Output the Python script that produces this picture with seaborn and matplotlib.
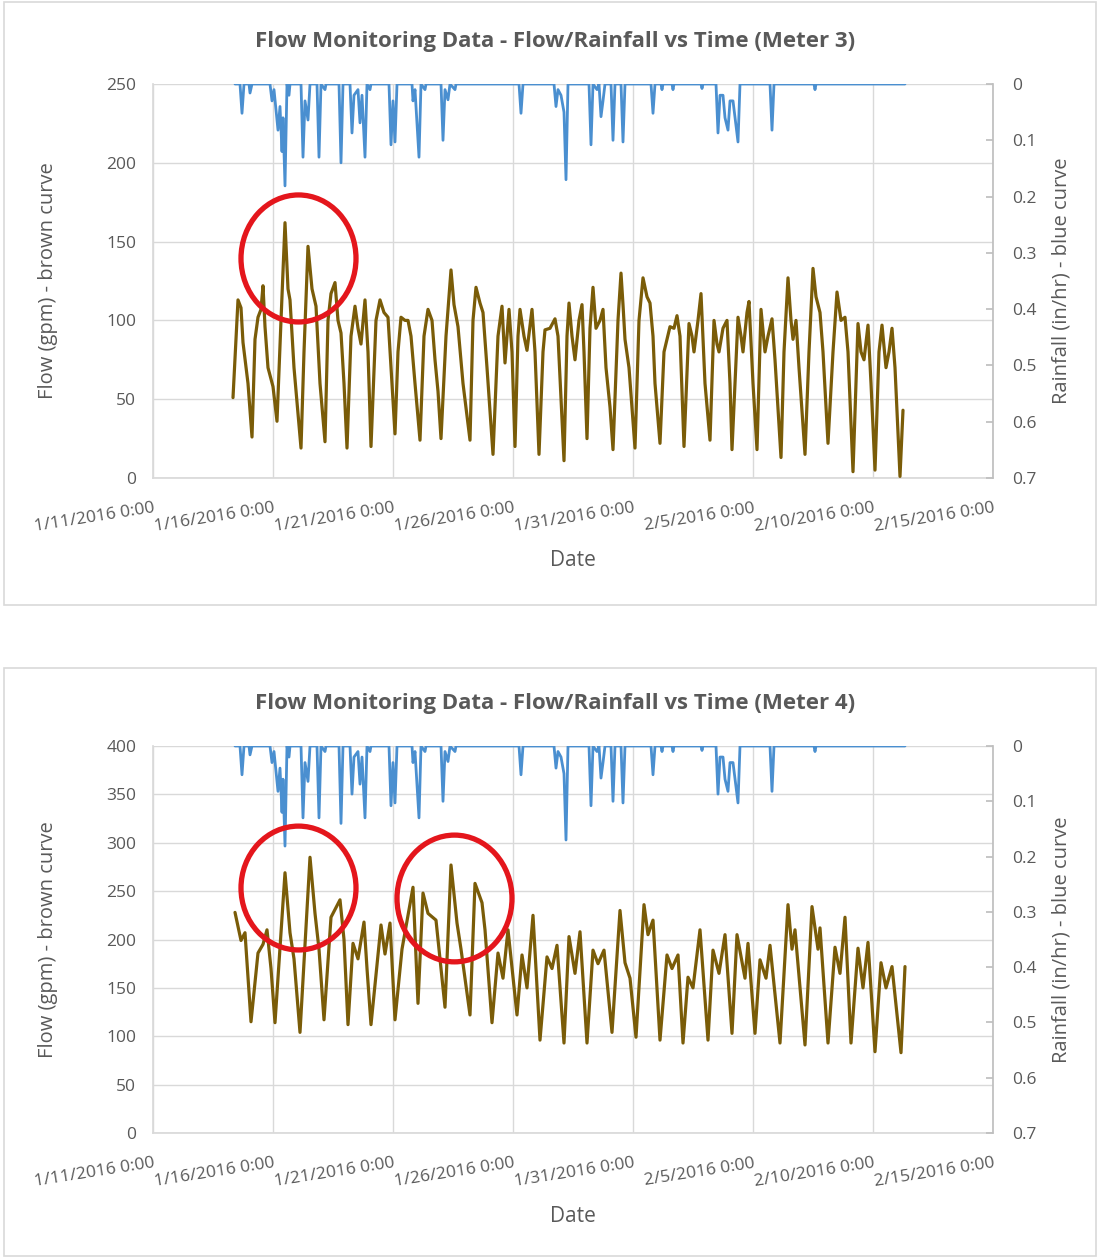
import matplotlib
matplotlib.use("Agg")
import matplotlib.pyplot as plt
import matplotlib.dates as mdates
from matplotlib.patches import Ellipse, Rectangle
import seaborn as sns
import pandas as pd

# ---------------- data (hours since 1/11/2016 0:00) ----------------
flow3_hours = [80, 85, 88, 90, 95, 99, 102, 105, 108, 110, 112, 115, 120, 124, 128, 132, 135, 137, 141, 148,
               151, 155, 159, 163, 167, 172, 175, 178, 182, 185, 188, 191, 194, 198, 202, 205, 208, 212,
               215, 218, 223, 227, 231, 235, 238, 242, 245, 248, 252, 255, 258, 262, 267, 271, 275, 279,
               282, 285, 288, 293, 298, 301, 305, 310, 317, 320, 323, 327, 330, 334, 340, 345, 349, 352,
               356, 359, 362, 365, 367, 371, 374, 379, 382, 386, 390, 392, 397, 402, 405, 408, 411, 414,
               416, 419, 422, 426, 429, 431, 434, 437, 440, 443, 447, 450, 453, 457, 460, 465, 468, 470,
               472, 476, 482, 486, 490, 494, 497, 500, 502, 507, 511, 517, 521, 524, 527, 531, 536, 539,
               541, 545, 548, 552, 557, 561, 564, 566, 570, 574, 577, 579, 585, 588, 590, 594, 596, 600,
               604, 608, 612, 615, 619, 622, 628, 631, 635, 638, 640, 643, 646, 652, 656, 660, 663, 667,
               670, 675, 680, 684, 688, 692, 695, 700, 705, 708, 711, 715, 718, 722, 726, 729, 733, 736,
               739, 742, 747, 750]
flow3_gpm = [51, 113, 108, 86, 60, 26, 88, 102, 107, 122, 96, 70, 58, 36, 100, 162, 120, 113, 70, 19,
             80, 147, 120, 109, 60, 23, 100, 117, 124, 100, 92, 60, 19, 90, 109, 95, 85, 113,
             80, 20, 100, 113, 105, 102, 70, 28, 80, 102, 100, 100, 90, 60, 24, 90, 107, 100,
             75, 55, 25, 90, 132, 110, 96, 60, 24, 100, 121, 111, 105, 70, 15, 90, 109, 73,
             107, 80, 20, 90, 107, 90, 81, 107, 80, 15, 80, 94, 95, 101, 90, 50, 11, 90,
             111, 90, 75, 100, 110, 80, 25, 95, 121, 95, 100, 107, 70, 45, 18, 100, 130, 110,
             88, 70, 19, 100, 127, 115, 111, 90, 60, 22, 80, 96, 95, 103, 90, 20, 98, 90,
             80, 100, 117, 60, 24, 100, 85, 80, 95, 100, 60, 18, 102, 90, 80, 105, 112, 60,
             18, 107, 80, 90, 101, 75, 13, 80, 127, 100, 88, 100, 70, 15, 80, 133, 115, 105,
             80, 22, 80, 118, 100, 102, 80, 4, 98, 80, 75, 97, 60, 5, 80, 97, 70, 80,
             95, 70, 1, 43]

flow4_hours = [82, 88, 92, 98, 105, 110, 114, 118, 122, 132, 137, 141, 147, 157, 162, 166, 171, 178,
               187, 191, 195, 200, 205, 211, 214, 218, 228, 232, 237, 242, 249, 260, 265, 270, 275,
               283, 287, 292, 298, 304, 308, 317, 322, 329, 332, 339, 345, 350, 355, 364, 369, 374,
               380, 387, 394, 399, 404, 411, 416, 422, 427, 434, 440, 445, 451, 459, 467, 472, 477,
               483, 491, 495, 500, 507, 514, 519, 525, 530, 535, 540, 547, 555, 560, 566, 572, 579,
               584, 592, 595, 602, 607, 613, 617, 627, 635, 639, 642, 652, 659, 665, 667, 675, 682,
               687, 692, 698, 705, 710, 715, 722, 728, 733, 739, 748, 752]
flow4_gpm = [228, 199, 207, 115, 186, 195, 210, 170, 114, 269, 207, 180, 104, 285, 227, 190, 117, 223,
             241, 200, 112, 196, 180, 218, 170, 112, 215, 185, 217, 117, 190, 254, 134, 248, 227,
             220, 180, 130, 277, 217, 190, 122, 258, 238, 210, 114, 186, 160, 210, 122, 184, 150,
             225, 96, 182, 170, 194, 93, 203, 165, 208, 93, 189, 175, 189, 104, 230, 176, 160,
             99, 236, 205, 220, 96, 184, 170, 184, 93, 161, 150, 210, 96, 189, 165, 205, 103,
             205, 160, 196, 103, 179, 160, 194, 93, 236, 190, 210, 91, 234, 190, 212, 93, 192,
             165, 223, 93, 191, 150, 197, 84, 176, 150, 172, 83, 172]

rain_hours = [82, 87, 89, 91, 96, 97, 99, 117, 119, 121, 125, 127, 129, 130, 132, 134, 136, 137,
              148, 150, 152, 155, 157, 164, 166, 168, 172, 173, 186, 188, 190, 197, 199, 201, 205,
              207, 209, 212, 214, 217, 218, 236, 238, 240, 242, 244, 259, 260, 262, 266, 268, 272,
              273, 288, 290, 292, 295, 297, 302, 303, 366, 368, 370, 401, 403, 405, 408, 411, 413,
              415, 436, 438, 440, 444, 446, 448, 450, 452, 458, 460, 462, 468, 470, 472, 498, 500,
              502, 508, 509, 510, 519, 520, 521, 548, 549, 550, 563, 565, 567, 570, 572, 575, 577,
              580, 585, 587, 617, 619, 621, 661, 662, 663, 752]
rain_inhr = [0, 0, 0.052, 0, 0, 0.016, 0, 0, 0.03, 0.01, 0.082, 0.04, 0.12, 0.06, 0.181, 0, 0.02, 0,
             0, 0.13, 0.03, 0.064, 0, 0, 0.13, 0, 0.01, 0, 0, 0.14, 0, 0, 0.087, 0.02, 0.01,
             0.069, 0.02, 0.13, 0, 0.01, 0, 0, 0.108, 0.03, 0.103, 0, 0, 0.03, 0.01, 0.13, 0, 0.01,
             0, 0, 0.1, 0.01, 0.028, 0, 0.01, 0, 0, 0.052, 0, 0, 0.04, 0.01, 0.02, 0.05, 0.17,
             0, 0, 0.108, 0, 0.01, 0, 0.058, 0.03, 0, 0, 0.1, 0, 0, 0.103, 0, 0, 0.052,
             0, 0, 0.01, 0, 0, 0.01, 0, 0, 0.008, 0, 0, 0.087, 0.02, 0.02, 0.06, 0.082, 0.03,
             0.03, 0.103, 0, 0, 0.082, 0, 0, 0.01, 0, 0]

tick_dates = ["2016-01-11", "2016-01-16", "2016-01-21", "2016-01-26", "2016-01-31",
              "2016-02-05", "2016-02-10", "2016-02-15"]
tick_labels = ["1/11/2016 0:00", "1/16/2016 0:00", "1/21/2016 0:00", "1/26/2016 0:00",
               "1/31/2016 0:00", "2/5/2016 0:00", "2/10/2016 0:00", "2/15/2016 0:00"]
rain_ticks = [0, 0.1, 0.2, 0.3, 0.4, 0.5, 0.6, 0.7]
rain_tick_labels = ["0", "0.1", "0.2", "0.3", "0.4", "0.5", "0.6", "0.7"]

titles = ["Flow Monitoring Data - Flow/Rainfall vs Time (Meter 3)",
          "Flow Monitoring Data - Flow/Rainfall vs Time (Meter 4)"]

# circles: (center hour, center gpm, width hours, height gpm)
circles3 = [(145.5, 139.3, 115, 80.6)]
circles4 = [(145.5, 253.2, 115, 128), (301.5, 242.4, 115, 131)]

# ---------------- styling ----------------
sns.set_theme(style="white")
plt.rcParams["font.family"] = ["Open Sans", "DejaVu Sans"]

BROWN = "#7a5c08"
BLUE = "#4a8fd0"
GRID = "#d9d9d9"
TXT = "#595959"
RED = "#e4161c"

W, H = 1099, 1260
START = pd.Timestamp("2016-01-11")


def to_dates(hours):
    return START + pd.to_timedelta(pd.Series(hours, dtype=float), unit="h")


fig = plt.figure(figsize=(W / 100, H / 100), dpi=100)
fig.patch.set_facecolor("white")


def panel(top_px, bot_px, box, flow_h, flow_v, ymax, circles, title, title_y, date_y):
    ax = fig.add_axes([153 / W, 1 - bot_px / H, 840 / W, (bot_px - top_px) / H])
    fig.patches.append(Rectangle((box[0] / W, 1 - box[3] / H), (box[2] - box[0]) / W,
                                 (box[3] - box[1]) / H, transform=fig.transFigure,
                                 fill=False, edgecolor=GRID, lw=1.2, zorder=0))
    df = pd.DataFrame({"date": to_dates(flow_h), "flow": flow_v})
    sns.lineplot(data=df, x="date", y="flow", ax=ax, color=BROWN, lw=2.3,
                 sort=False, estimator=None, zorder=3)
    ax.set_ylim(0, ymax)
    ax.set_yticks(list(range(0, ymax + 1, 50)))
    ax.set_yticklabels([str(v) for v in range(0, ymax + 1, 50)], color=TXT, fontsize=12.5)
    ax.set_xlim(pd.Timestamp(tick_dates[0]), pd.Timestamp(tick_dates[-1]))
    ax.set_xticks([pd.Timestamp(d) for d in tick_dates])
    ax.set_xticklabels(tick_labels, rotation=9, ha="right", rotation_mode="anchor",
                       va="top", color=TXT, fontsize=12.5)
    ax.tick_params(axis="y", length=0, pad=12)
    ax.tick_params(axis="x", length=0, pad=16)
    ax.grid(True, color=GRID, lw=1.0)
    ax.set_xlabel("")
    ax.set_ylabel("")
    for s in ["top", "right"]:
        ax.spines[s].set_visible(False)
    ax.spines["left"].set_color(GRID)
    ax.spines["bottom"].set_color(GRID)

    ax2 = ax.twinx()
    rf = pd.DataFrame({"date": to_dates(rain_hours), "rain": rain_inhr})
    sns.lineplot(data=rf, x="date", y="rain", ax=ax2, color=BLUE, lw=2.0,
                 sort=False, estimator=None)
    ax2.set_ylim(0.7, 0)
    ax2.set_yticks(rain_ticks)
    ax2.set_yticklabels(rain_tick_labels, color=TXT, fontsize=12.5)
    ax2.tick_params(axis="y", direction="in", length=5, color="#bfbfbf", pad=14)
    ax2.set_ylabel("")
    ax2.grid(False)
    for s in ["top", "left", "bottom"]:
        ax2.spines[s].set_visible(False)
    ax2.spines["right"].set_color("#bfbfbf")

    for (ch, cg, wh, hg) in circles:
        cx = mdates.date2num(START + pd.Timedelta(hours=ch))
        e = Ellipse((cx, cg), wh / 24.0, hg, transform=ax.transData, fill=False,
                    edgecolor=RED, lw=3.8, zorder=10)
        ax2.add_patch(e)

    mid = (top_px + bot_px) / 2
    fig.text(555 / W, 1 - title_y / H, title, ha="center", va="center",
             fontsize=16, fontweight="bold", color=TXT)
    fig.text(48 / W, 1 - mid / H, "Flow (gpm) - brown curve", rotation=90,
             ha="center", va="center", fontsize=14.5, color=TXT)
    fig.text(1062 / W, 1 - mid / H, "Rainfall (in/hr) - blue curve", rotation=90,
             ha="center", va="center", fontsize=14.5, color=TXT)
    fig.text(573 / W, 1 - date_y / H, "Date", ha="center", va="center",
             fontsize=15, color=TXT)


panel(84, 478, (4, 2, 1096, 605), flow3_hours, flow3_gpm, 250, circles3, titles[0], 41, 560)
panel(746, 1133, (4, 668, 1096, 1256), flow4_hours, flow4_gpm, 400, circles4, titles[1], 704, 1216)

fig.savefig("out.png", dpi=100, facecolor="white")
